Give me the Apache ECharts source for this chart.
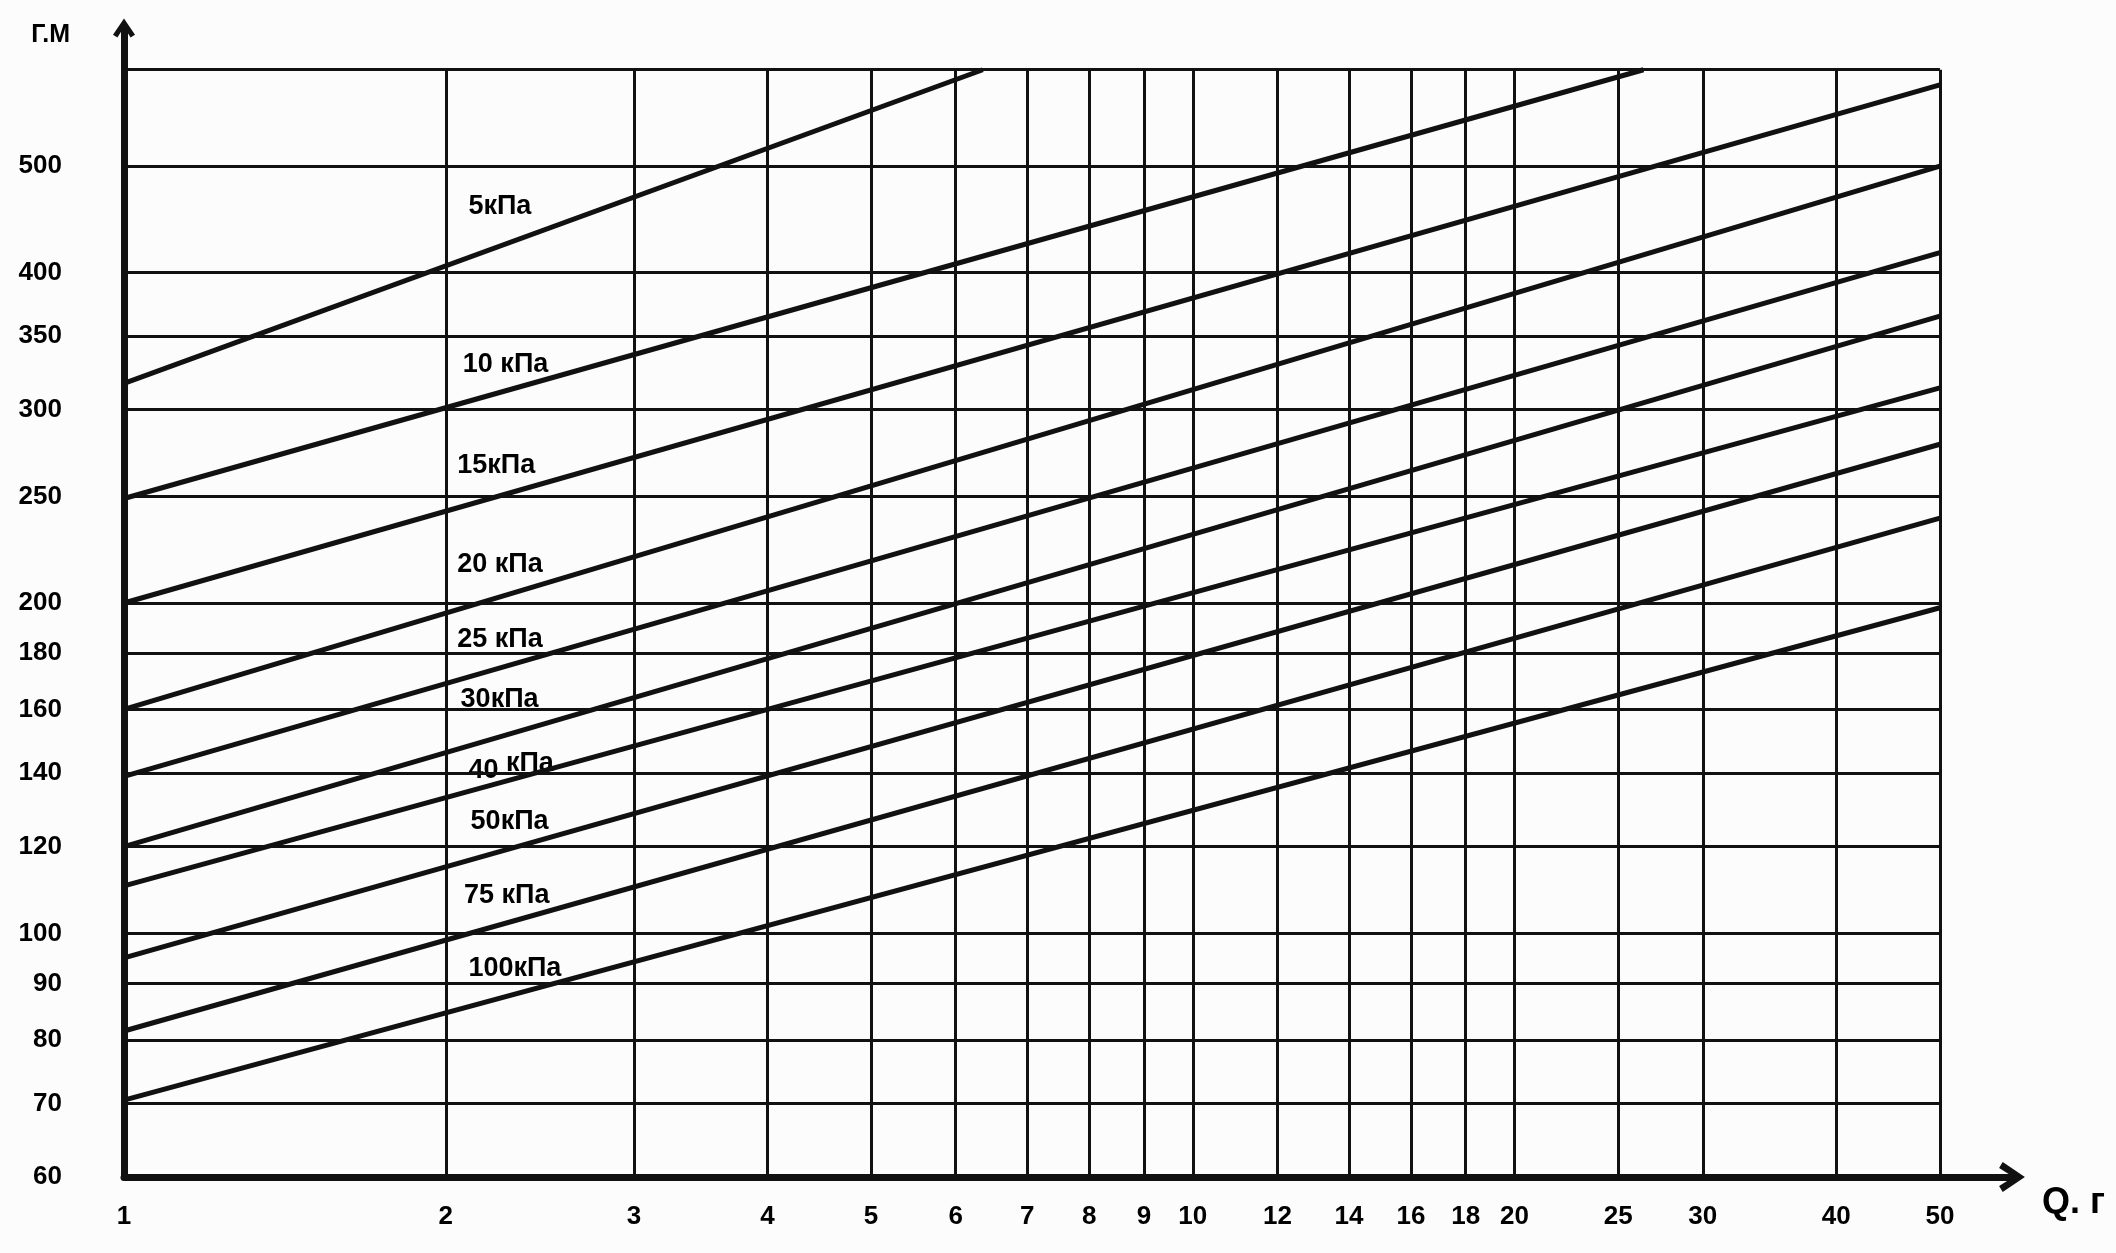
<!DOCTYPE html>
<html><head><meta charset="utf-8">
<script src="https://cdn.jsdelivr.net/npm/echarts@6/dist/echarts.min.js"></script>
<style>html,body{margin:0;padding:0;background:#fcfcfc}#c{width:2116px;height:1253px}</style>
</head><body><div id="c"></div>
<script>
// Axis ticks / labels
const xTicks = [1,2,3,4,5,6,7,8,9,10,12,14,16,18,20,25,30,40,50];
const yTicks = [60,70,80,90,100,120,140,160,180,200,250,300,350,400,500];
const yFrameTop = 612;   // unlabeled top frame line
const xFrameRight = 50;  // right frame line
// Curves (straight in log-log)
const pressureNames = ['5кПа','10 кПа','15кПа','20 кПа','25 кПа','30кПа','40 кПа','50кПа','75 кПа','100кПа'];
const qStart = [1,1,1,1,1,1,1,1,1,1];
const hStart = [317,249,200,160,139,120,110.5,95,81.5,70.5];
const qEnd   = [6.36,26.4,50,50,50,50,50,50,50,50];
const hEnd   = [612,612,593,500,417,365,314,279,239,198];
// Curve label anchors (left edge of text)
const labelQ = [2.10,2.075,2.05,2.05,2.05,2.065,2.10,2.11,2.08,2.10];
const labelH = [459,330,267,216.7,185.4,163.2,142.8,126.4,108.2,92.9];

const INK = '#000';
const SANS = '"Liberation Sans","DejaVu Sans",sans-serif';
const ARROW = 'path://M50,0 L100,74 L80,86 L50,38 L20,86 L0,74 Z';

const gridLines = [];
xTicks.forEach(x => { if (x !== xTicks[0]) gridLines.push([{coord:[x, yTicks[0]]},{coord:[x, yFrameTop]}]); });
yTicks.concat([yFrameTop]).forEach(y => { if (y !== yTicks[0]) gridLines.push([{coord:[xTicks[0], y]},{coord:[xFrameRight, y]}]); });

const series = [{
  type:'line', data:[[xTicks[0], yTicks[0]]], showSymbol:false, silent:true,
  lineStyle:{width:0},
  markLine:{silent:true, animation:false, symbol:['none','none'], label:{show:false},
    lineStyle:{color:'#111', width:3, type:'solid'}, emphasis:{disabled:true}, data:gridLines}
}];
pressureNames.forEach((n,i) => series.push({
  type:'line', name:n, data:[[qStart[i],hStart[i]],[qEnd[i],hEnd[i]]],
  symbol:'none', silent:true, lineStyle:{color:'#111', width:5}
}));
series.push({
  type:'scatter', symbolSize:0, silent:true, itemStyle:{opacity:1},
  data: pressureNames.map((n,i)=>({name:n, value:[labelQ[i], labelH[i]]})),
  label:{show:true, position:'right', distance:0, opacity:1, color:INK, fontSize:27, fontWeight:'bold', fontFamily:SANS,
    formatter: p => p.name === '40 кПа' ? '{a|40} {b|кПа}' : p.name,
    rich:{a:{fontSize:27, fontWeight:'bold', fontFamily:SANS, color:INK, padding:[14,0,0,0]},
          b:{fontSize:27, fontWeight:'bold', fontFamily:SANS, color:INK}}}
});

const chart = echarts.init(document.getElementById('c'), null, {renderer:'canvas'});
chart.setOption({
  animation:false,
  backgroundColor:'#fcfcfc',
  grid:{left:124, right:104, top:28, bottom:76, containLabel:false},
  xAxis:{type:'log', logBase:10, min:1, max:58.4,
    name:'Q. г', nameLocation:'end', nameGap:30,
    nameTextStyle:{color:INK, fontSize:36, fontWeight:'bold', fontFamily:SANS, align:'left', verticalAlign:'top', padding:[8,0,0,0]},
    axisLine:{show:true, symbol:['none', ARROW], symbolSize:[30,26], lineStyle:{color:'#111', width:7}},
    axisTick:{show:false}, splitLine:{show:false}, minorSplitLine:{show:false},
    axisLabel:{show:true, customValues:xTicks, margin:27, color:INK, fontSize:26, fontWeight:'bold', fontFamily:SANS}
  },
  yAxis:{type:'log', logBase:10, min:60, max:668,
    name:'Г.М', nameLocation:'end', nameGap:-20,
    nameTextStyle:{color:INK, fontSize:25, fontWeight:'bold', fontFamily:SANS, align:'right', padding:[0,54,0,0]},
    axisLine:{show:true, symbol:['none', ARROW], symbolSize:[22,27], lineStyle:{color:'#111', width:7}},
    axisTick:{show:false}, splitLine:{show:false}, minorSplitLine:{show:false},
    axisLabel:{show:true, customValues:yTicks, margin:62, color:INK, fontSize:26, fontWeight:'bold', fontFamily:SANS}
  },
  series
});
</script></body></html>
